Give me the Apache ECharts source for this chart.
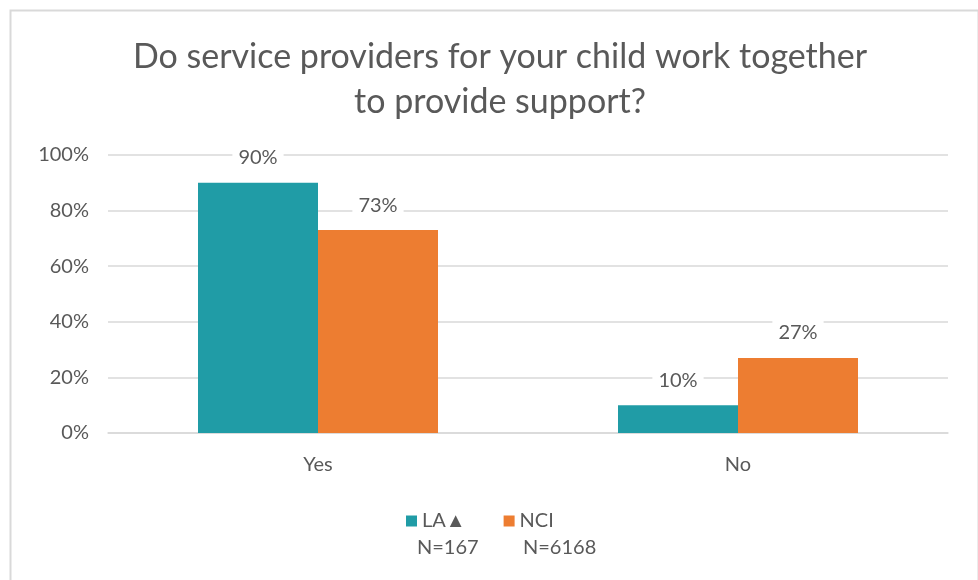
<!DOCTYPE html>
<html>
<head>
<meta charset="utf-8">
<script src="https://cdn.jsdelivr.net/npm/echarts@6/dist/echarts.min.js"></script>
<style>html,body{margin:0;padding:0;background:#fff;}#c{width:978px;height:580px;}</style>
</head>
<body>
<div id="c"></div>
<script>
const categories = ['Yes', 'No'];
const seriesNames = ['LA\u25B2', 'NCI'];
const seriesN = ['N=167', 'N=6168'];
const laValues = [90, 10];
const nciValues = [73, 27];
const yTicks = [0, 20, 40, 60, 80, 100];

const FONT = 'Lato, "Open Sans", sans-serif';
const chart = echarts.init(document.getElementById('c'));
const labelCfg = {
  show: true, position: 'top', distance: 13,
  formatter: p => p.value + '%',
  color: '#595959', fontSize: 20, fontFamily: FONT,
  backgroundColor: '#fff', padding: [2, 6]
};
chart.setOption({
  animation: false,
  backgroundColor: '#fff',
  title: {
    text: 'Do service providers for your child work together\nto provide support?',
    left: 495, textAlign: 'center', top: 30,
    textStyle: { fontSize: 34, fontWeight: 'normal', color: '#595959', fontFamily: FONT, lineHeight: 45 }
  },
  legend: {
    data: seriesNames, top: 506, left: 401,
    itemWidth: 11, itemHeight: 11, itemGap: 38,
    icon: 'rect',
    textStyle: { fontSize: 20, color: '#595959', fontFamily: FONT }
  },
  grid: { left: 108, right: 30, top: 155, bottom: 147, containLabel: false },
  xAxis: {
    type: 'category', data: categories,
    axisLine: { show: true, lineStyle: { color: '#d9d9d9', width: 1.5 } },
    axisTick: { show: false },
    axisLabel: { fontSize: 20, color: '#595959', fontFamily: FONT, margin: 22 }
  },
  yAxis: {
    type: 'value', min: yTicks[0], max: yTicks[yTicks.length - 1], interval: 20,
    axisLine: { show: false }, axisTick: { show: false },
    splitLine: { lineStyle: { color: '#d9d9d9', width: 1.5 } },
    axisLabel: { formatter: '{value}%', fontSize: 20, color: '#595959', fontFamily: FONT, margin: 19 }
  },
  series: [
    { name: seriesNames[0], type: 'bar', data: laValues, barWidth: 120, barGap: '0%',
      itemStyle: { color: '#209ca6' }, label: labelCfg },
    { name: seriesNames[1], type: 'bar', data: nciValues, barWidth: 120,
      itemStyle: { color: '#ed7d31' }, label: labelCfg }
  ],
  graphic: [
    { type: 'rect', left: 8, top: 8, shape: { width: 968, height: 580 },
      style: { fill: 'none', stroke: '#d9d9d9', lineWidth: 2 }, silent: true },
    { type: 'text', left: 417, top: 538,
      style: { text: seriesN[0], fontSize: 20, fill: '#595959', fontFamily: FONT } },
    { type: 'text', left: 523, top: 538,
      style: { text: seriesN[1], fontSize: 20, fill: '#595959', fontFamily: FONT } }
  ]
});
</script>
</body>
</html>
